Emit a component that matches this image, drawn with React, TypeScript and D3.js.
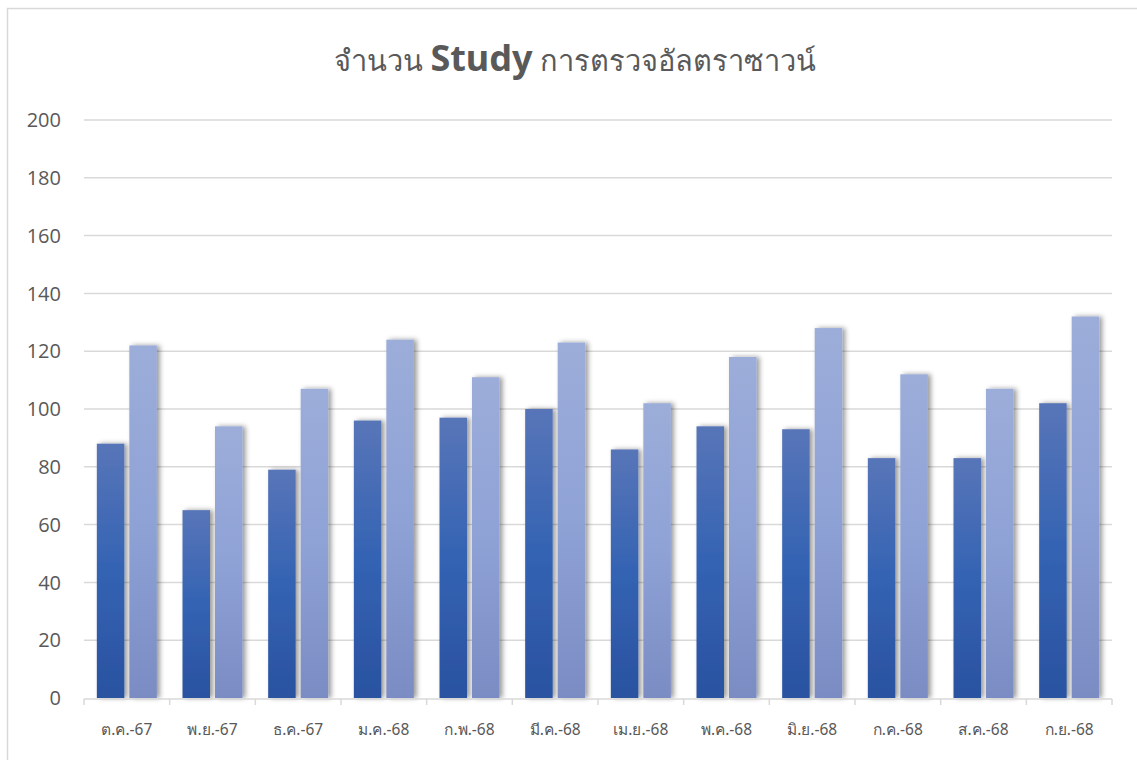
import React from "react";
import * as d3 from "d3";

const categories = ["ต.ค.-67","พ.ย.-67","ธ.ค.-67","ม.ค.-68","ก.พ.-68","มี.ค.-68","เม.ย.-68","พ.ค.-68","มิ.ย.-68","ก.ค.-68","ส.ค.-68","ก.ย.-68"];
const series1 = [88, 65, 79, 96, 97, 100, 86, 94, 93, 83, 83, 102];
const series2 = [122, 94, 107, 124, 111, 123, 102, 118, 128, 112, 107, 132];
const yTicks = [0, 20, 40, 60, 80, 100, 120, 140, 160, 180, 200];

export default function App() {
  const W = 1137, H = 760;
  const left = 84, right = 1112, top = 120, bottom = 698;
  const x = d3.scaleBand<string>().domain(categories).range([left, right]).paddingInner(0).paddingOuter(0);
  const inner = d3.scaleBand<string>().domain(["a", "b"]).range([0, x.bandwidth()]).paddingInner(0.154).paddingOuter(0.395);
  const y = d3.scaleLinear().domain([0, 200]).range([bottom, top]);
  const font = "'Noto Sans', 'Open Sans', sans-serif";
  const grey = "#595959";
  return (
    <svg width={W} height={H} style={{ position: "absolute", left: 0, top: 0 }} fontFamily={font}>
      <defs>
        <linearGradient id="g1" x1="0" y1="0" x2="0" y2="1">
          <stop offset="0%" stopColor="#5875b8" />
          <stop offset="50%" stopColor="#3463b3" />
          <stop offset="100%" stopColor="#2a52a0" />
        </linearGradient>
        <linearGradient id="g2" x1="0" y1="0" x2="0" y2="1">
          <stop offset="0%" stopColor="#9cadd9" />
          <stop offset="50%" stopColor="#8fa2d6" />
          <stop offset="100%" stopColor="#7a8cc3" />
        </linearGradient>
        <filter id="sh" x="-30%" y="-5%" width="160%" height="110%">
          <feDropShadow dx="3" dy="0" stdDeviation="2.5" floodColor="#000" floodOpacity="0.4" />
        </filter>
      </defs>
      <rect x={0} y={0} width={W} height={H} fill="#fff" />
      <rect x={7.5} y={8.5} width={1200} height={800} fill="none" stroke="#d9d9d9" strokeWidth={1.5} />
      <text x={575} y={71} textAnchor="middle" fill={grey} fontSize={29}>
        จำนวน <tspan fontWeight="bold" fontSize={36}>Study</tspan> การตรวจอัลตราซาวน์
      </text>
      {yTicks.map(t => (
        <g key={t}>
          {t > 0 && <line x1={left} x2={right} y1={y(t)} y2={y(t)} stroke="#d9d9d9" strokeWidth={1.5} />}
          <text x={61} y={y(t)} dy="0.36em" textAnchor="end" fill={grey} fontSize={20} fontFamily="'Open Sans', sans-serif">{t}</text>
        </g>
      ))}
      {categories.map((c, i) => (
        <g key={c}>
          <rect x={(x(c) as number) + (inner("a") as number)} y={y(series1[i])} width={inner.bandwidth()} height={bottom - y(series1[i])} fill="url(#g1)" filter="url(#sh)" />
          <rect x={(x(c) as number) + (inner("b") as number)} y={y(series2[i])} width={inner.bandwidth()} height={bottom - y(series2[i])} fill="url(#g2)" filter="url(#sh)" />
          <text x={(x(c) as number) + x.bandwidth() / 2} y={735} textAnchor="middle" fill={grey} fontSize={15.5}>{c}</text>
        </g>
      ))}
      <line x1={left} x2={right} y1={bottom + 1} y2={bottom + 1} stroke="#d9d9d9" strokeWidth={1.5} />
      {[...categories.map(c => x(c) as number), right].map((tx, i) => (
        <line key={i} x1={tx} x2={tx} y1={bottom + 1} y2={bottom + 7} stroke="#d9d9d9" strokeWidth={1.5} />
      ))}
    </svg>
  );
}
